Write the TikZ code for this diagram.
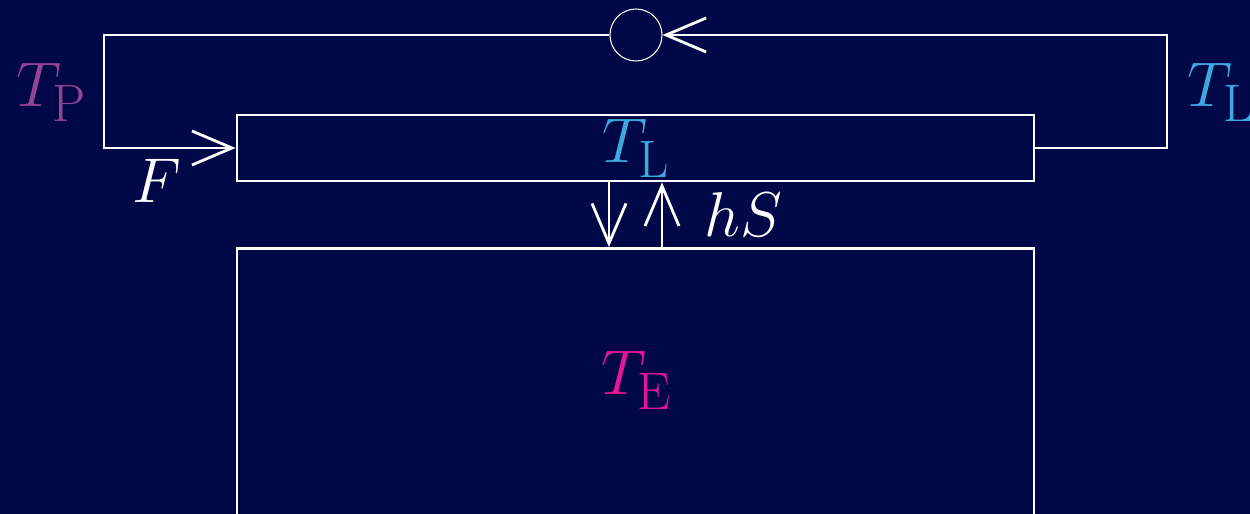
\RequirePackage{fix-cm}
\documentclass[tikz,border=0pt]{standalone}
\usepackage{amsmath}
\usepackage{xcolor}
\usepackage{tikz}
\usetikzlibrary{arrows.meta}
\DeclareMathSizes{36}{36}{30}{22}
\definecolor{bgnavy}{RGB}{0,8,72}
\definecolor{tlblue}{RGB}{60,170,222}
\definecolor{temag}{RGB}{230,20,150}
\definecolor{tppurp}{RGB}{150,66,150}

\begin{document}
\begin{tikzpicture}[font=\fontsize{36}{40}\selectfont, line width=1.6pt, white,
  >={Straight Barb[length=0.8cm, width=0.68cm, line width=1.6pt]}]
  \useasboundingbox (0,0) rectangle (25,10.28);
  \fill[bgnavy] (0,0) rectangle (25,10.28);
  % layer and ocean boxes (ocean runs past the bottom edge)
  \node[draw, minimum width=15.94cm, minimum height=1.32cm, inner sep=0] (layer) at (12.71,7.32) {};
  \node[draw, minimum width=15.94cm, minimum height=5.74cm, inner sep=0, anchor=north] (ocean) at (12.71,5.34) {};
  % mixing circle on the return loop
  \node[circle, draw=white!85, line width=0.6pt, minimum size=1.04cm, inner sep=0] (mix) at (12.72,9.58) {};
  \coordinate (loopNE) at (23.34,9.58);
  \coordinate (loopNW) at (2.08,9.58);
  \draw[->] (layer.east) -| (loopNE) -- (mix.east);
  \draw[->] (mix.west) -- (loopNW) |- (layer.west);
  % exchange between the boxes
  \draw[->] ([xshift=-0.53cm]layer.south) -- ([xshift=-0.53cm]ocean.north);
  \draw[->] ([xshift=0.53cm]ocean.north) -- ([xshift=0.53cm]layer.south);
  % labels
  \node[anchor=base west, inner sep=0, text=tppurp] (tp) at (0.30,8.14) {$T_{\mathrm{P}}$};
  \node[anchor=base west, inner sep=0] (flux) at (2.62,6.22) {$F$};
  \node[anchor=base west, inner sep=0, text=tlblue] (tl) at (12.02,7.02) {$T_{\mathrm{L}}$};
  \node[anchor=base west, inner sep=0, text=tlblue] (tlout) at (23.72,8.14) {$T_{\mathrm{L}}$};
  \node[anchor=base west, inner sep=0] (hs) at (14.06,5.54) {$hS$};
  \node[anchor=base west, inner sep=0, text=temag] (te) at (12.00,2.38) {$T_{\mathrm{E}}$};
\end{tikzpicture}
\end{document}
